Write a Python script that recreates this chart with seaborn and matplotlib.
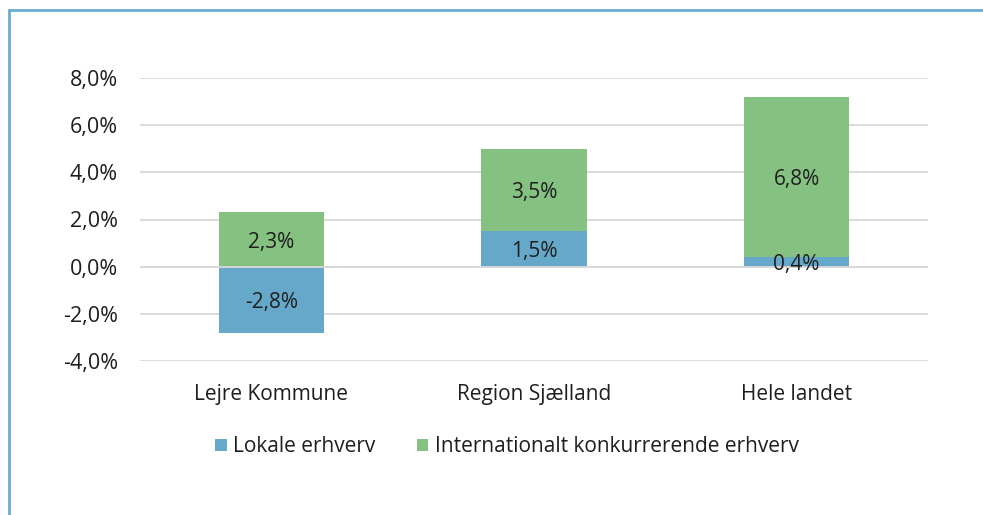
import matplotlib
matplotlib.use("Agg")
import matplotlib.pyplot as plt
import seaborn as sns
import pandas as pd
from matplotlib.patches import Patch
from matplotlib.lines import Line2D

categories = ["Lejre Kommune", "Region Sjælland", "Hele landet"]
lokale = [-2.8, 1.5, 0.4]
internationalt = [2.3, 3.5, 6.8]
yticks = [-4, -2, 0, 2, 4, 6, 8]
series_names = ["Lokale erhverv", "Internationalt konkurrerende erhverv"]

BLUE = "#65A8C9"
GREEN = "#85C282"
GRID = "#D9D9D9"
TEXT = "#1E1E1E"
FS = 15

sns.set_theme(style="white")
plt.rcParams["font.family"] = ["Open Sans", "DejaVu Sans"]

df = pd.DataFrame({"kategori": categories, "lokale": lokale, "intl": internationalt})
df["top"] = [max(l, 0) + g for l, g in zip(lokale, internationalt)]

fig = plt.figure(figsize=(9.83, 5.15), dpi=100)
ax = fig.add_axes([140/983, 1-361/515, (928-140)/983, (361-78)/515])

for y in yticks:
    ax.axhline(y, color=GRID, lw=1.3, zorder=0)

sns.barplot(data=df, x="kategori", y="top", color=GREEN, width=0.4,
            saturation=1, ax=ax, zorder=2, linewidth=0)
sns.barplot(data=df, x="kategori", y="lokale", color=BLUE, width=0.4,
            saturation=1, ax=ax, zorder=3, linewidth=0)
ax.axhline(0, color=GRID, lw=1.3, zorder=4)

def fmt(v):
    return f"{v:.1f}%".replace(".", ",")

for i, (l, g) in enumerate(zip(lokale, internationalt)):
    ax.annotate(fmt(l), (i, l/2), xytext=(0, -1.8), textcoords="offset points",
                ha="center", va="center", fontsize=FS, color=TEXT, zorder=5)
    ax.annotate(fmt(g), (i, max(l, 0) + g/2), xytext=(0, -1.8), textcoords="offset points",
                ha="center", va="center", fontsize=FS, color=TEXT, zorder=5)

ax.set_ylim(-4, 8)
ax.set_xlim(-0.5, 2.5)
ax.set_yticks(yticks)
ax.set_yticklabels([fmt(v) for v in yticks])
ax.set_xlabel("")
ax.set_ylabel("")
ax.tick_params(axis="y", length=0, pad=16, labelsize=FS + 0.5, labelcolor=TEXT)
ax.tick_params(axis="x", length=0, pad=16.5, labelsize=FS, labelcolor=TEXT)
for s in ax.spines.values():
    s.set_visible(False)
ax.grid(False)

handles = [Patch(facecolor=BLUE, edgecolor="none"), Patch(facecolor=GREEN, edgecolor="none")]
fig.legend(handles, series_names, loc="center", bbox_to_anchor=(507/983, 1-447/515),
           ncol=2, frameon=False, fontsize=FS, handlelength=0.55, handleheight=0.55,
           handletextpad=0.3, columnspacing=2.0, labelcolor=TEXT)

FRAME = "#6AAECF"
fig.add_artist(Line2D([9/983, 1], [1-10/515, 1-10/515], color=FRAME, lw=2, transform=fig.transFigure))
fig.add_artist(Line2D([9/983, 9/983], [0, 1-10/515], color=FRAME, lw=2, transform=fig.transFigure))

fig.savefig("out.png", dpi=100)
